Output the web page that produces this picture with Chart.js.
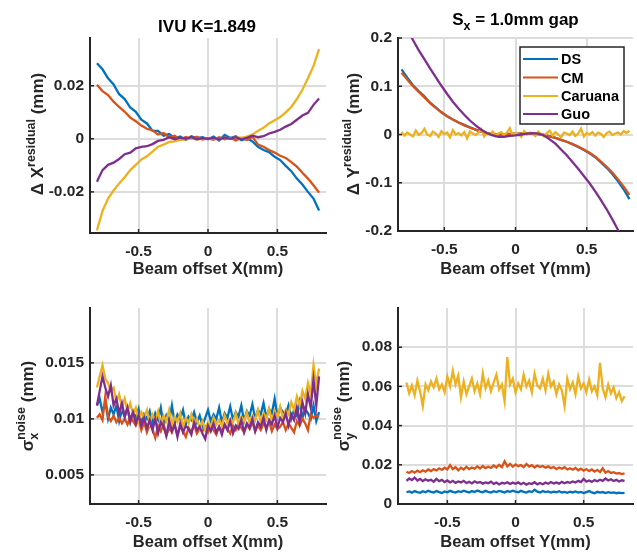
<!DOCTYPE html>
<html><head><meta charset="utf-8">
<script src="https://cdn.jsdelivr.net/npm/chart.js@4/dist/chart.umd.min.js"></script>
<style>
html,body{margin:0;padding:0;background:#fff;}
body{width:637px;height:553px;position:relative;overflow:hidden;}
canvas{position:absolute;}
</style></head>
<body>
<canvas id="cTL" width="330" height="280" style="left:0;top:0"></canvas>
<canvas id="cTR" width="307" height="280" style="left:330px;top:0"></canvas>
<canvas id="cBL" width="330" height="273" style="left:0;top:280px"></canvas>
<canvas id="cBR" width="307" height="273" style="left:330px;top:280px"></canvas>
<script>
// ---------- DATA ----------
const seriesNames = ['DS', 'CM', 'Caruana', 'Guo'];
const xTicks = [-0.5, 0, 0.5];
const yTicksTL = [-0.02, 0, 0.02];
const yTicksTR = [-0.2, -0.1, 0, 0.1, 0.2];
const yTicksBL = [0.005, 0.01, 0.015];
const yTicksBR = [0, 0.02, 0.04, 0.06, 0.08];

const xPos41 = [-0.80,-0.76,-0.72,-0.68,-0.64,-0.60,-0.56,-0.52,-0.48,-0.44,
  -0.40,-0.36,-0.32,-0.28,-0.24,-0.20,-0.16,-0.12,-0.08,-0.04,
  0.00,0.04,0.08,0.12,0.16,0.20,0.24,0.28,0.32,0.36,
  0.40,0.44,0.48,0.52,0.56,0.60,0.64,0.68,0.72,0.76,
  0.80];
const xPos81 = [-0.80,-0.78,-0.76,-0.74,-0.72,-0.70,-0.68,-0.66,-0.64,-0.62,
  -0.60,-0.58,-0.56,-0.54,-0.52,-0.50,-0.48,-0.46,-0.44,-0.42,
  -0.40,-0.38,-0.36,-0.34,-0.32,-0.30,-0.28,-0.26,-0.24,-0.22,
  -0.20,-0.18,-0.16,-0.14,-0.12,-0.10,-0.08,-0.06,-0.04,-0.02,
  0.00,0.02,0.04,0.06,0.08,0.10,0.12,0.14,0.16,0.18,
  0.20,0.22,0.24,0.26,0.28,0.30,0.32,0.34,0.36,0.38,
  0.40,0.42,0.44,0.46,0.48,0.50,0.52,0.54,0.56,0.58,
  0.60,0.62,0.64,0.66,0.68,0.70,0.72,0.74,0.76,0.78,
  0.80];

// Top-left: Delta X residual (mm)
const tlDS = [0.0285,0.0262,0.0228,0.0205,0.0168,0.0150,0.0118,0.0102,0.0072,0.0058,
  0.0031,0.0030,0.0012,0.0018,0.0002,0.0009,-0.0004,0.0010,0.0003,0.0006,
  -0.0002,0.0008,-0.0006,0.0015,0.0003,0.0010,-0.0005,0.0002,-0.0010,-0.0030,
  -0.0042,-0.0050,-0.0068,-0.0080,-0.0102,-0.0122,-0.0150,-0.0172,-0.0200,-0.0225,
  -0.0270];
const tlCM = [0.0204,0.0180,0.0165,0.0140,0.0120,0.0102,0.0080,0.0066,0.0050,0.0038,
  0.0032,0.0016,0.0022,0.0006,0.0012,-0.0002,0.0007,0.0000,0.0008,-0.0003,
  0.0002,-0.0004,0.0006,-0.0002,0.0004,-0.0006,0.0003,-0.0004,0.0008,-0.0022,
  -0.0030,-0.0042,-0.0052,-0.0064,-0.0072,-0.0088,-0.0105,-0.0128,-0.0150,-0.0175,
  -0.0203];
const tlCaruana = [-0.0345,-0.0272,-0.0225,-0.0195,-0.0168,-0.0145,-0.0118,-0.0098,-0.0078,-0.0066,
  -0.0048,-0.0030,-0.0022,-0.0012,-0.0010,-0.0004,-0.0002,0.0001,-0.0003,0.0002,
  0.0000,0.0003,-0.0002,0.0004,0.0001,0.0005,0.0004,0.0008,0.0016,0.0030,
  0.0042,0.0058,0.0070,0.0082,0.0100,0.0120,0.0150,0.0185,0.0228,0.0275,
  0.0338];
const tlGuo = [-0.0162,-0.0118,-0.0098,-0.0090,-0.0076,-0.0058,-0.0052,-0.0036,-0.0030,-0.0028,
  -0.0020,-0.0008,-0.0004,0.0006,-0.0002,0.0004,0.0000,0.0006,-0.0002,0.0003,
  0.0000,0.0004,-0.0003,0.0005,0.0000,0.0006,-0.0002,0.0004,0.0012,0.0006,
  0.0010,0.0020,0.0026,0.0034,0.0046,0.0056,0.0072,0.0088,0.0098,0.0128,
  0.0152];

// Top-right: Delta Y residual (mm)
const trDS = [0.135,0.118,0.102,0.090,0.079,0.066,0.056,0.046,0.038,0.031,
  0.025,0.020,0.015,0.010,0.006,0.003,0.001,0.000,0.000,0.001,
  0.002,0.002,0.003,0.002,0.001,-0.001,-0.004,-0.007,-0.011,-0.015,
  -0.020,-0.026,-0.032,-0.039,-0.047,-0.058,-0.069,-0.082,-0.097,-0.114,
  -0.134];
const trCM = [0.128,0.114,0.100,0.088,0.077,0.065,0.055,0.046,0.038,0.031,
  0.025,0.019,0.014,0.010,0.006,0.003,0.001,0.000,0.000,0.001,
  0.002,0.002,0.003,0.002,0.001,-0.001,-0.004,-0.007,-0.011,-0.015,
  -0.020,-0.025,-0.031,-0.038,-0.046,-0.056,-0.067,-0.079,-0.093,-0.108,
  -0.125];
const trCaruana = [0.005,-0.002,0.004,0.000,-0.004,0.008,-0.001,0.003,0.012,0.000,
  -0.003,0.006,0.002,-0.005,0.007,0.001,0.004,-0.006,0.009,0.000,
  0.003,-0.002,0.005,-0.008,0.006,0.002,-0.001,0.004,0.011,-0.004,
  0.003,0.000,0.006,-0.003,0.002,0.005,-0.001,0.004,0.013,-0.002,
  0.003,0.001,-0.005,0.007,0.000,0.004,0.002,-0.003,0.006,0.001,
  -0.004,0.003,0.008,-0.002,0.005,0.000,-0.006,0.004,0.002,-0.001,
  0.006,-0.003,0.002,0.012,-0.004,0.003,0.000,0.005,-0.002,0.004,
  0.001,-0.005,0.003,0.006,-0.001,0.002,0.004,0.000,0.007,0.003,
  0.008];
const trGuo = [0.240,0.218,0.196,0.175,0.156,0.137,0.119,0.101,0.084,0.068,
  0.054,0.041,0.029,0.019,0.010,0.003,-0.002,-0.005,-0.005,-0.003,
  -0.002,0.000,0.002,0.003,0.002,-0.002,-0.010,-0.019,-0.031,-0.043,
  -0.057,-0.071,-0.086,-0.101,-0.118,-0.136,-0.155,-0.176,-0.198,-0.222,
  -0.247];

// Bottom-left: sigma_x noise (mm)
const blDS = [0.0112,0.0118,0.0106,0.0115,0.0100,0.0110,0.0104,0.0112,0.0098,0.0108,
  0.0102,0.0110,0.0097,0.0106,0.0101,0.0109,0.0095,0.0104,0.0100,0.0107,
  0.0096,0.0105,0.0099,0.0110,0.0094,0.0103,0.0098,0.0112,0.0096,0.0104,
  0.0100,0.0108,0.0095,0.0102,0.0099,0.0106,0.0097,0.0103,0.0094,0.0101,
  0.0108,0.0098,0.0104,0.0100,0.0110,0.0097,0.0105,0.0101,0.0111,0.0099,
  0.0106,0.0102,0.0112,0.0098,0.0107,0.0103,0.0113,0.0100,0.0108,0.0104,
  0.0114,0.0101,0.0109,0.0105,0.0118,0.0102,0.0110,0.0106,0.0104,0.0112,
  0.0100,0.0108,0.0103,0.0115,0.0101,0.0109,0.0105,0.0100,0.0112,0.0098,
  0.0106];
const blCM = [0.0101,0.0104,0.0099,0.0120,0.0102,0.0098,0.0103,0.0097,0.0101,0.0096,
  0.0100,0.0095,0.0102,0.0098,0.0094,0.0100,0.0090,0.0097,0.0088,0.0095,
  0.0091,0.0083,0.0094,0.0089,0.0096,0.0085,0.0092,0.0088,0.0095,0.0086,
  0.0093,0.0089,0.0084,0.0092,0.0088,0.0095,0.0087,0.0091,0.0089,0.0093,
  0.0088,0.0094,0.0090,0.0086,0.0093,0.0089,0.0095,0.0091,0.0087,0.0094,
  0.0090,0.0096,0.0092,0.0088,0.0095,0.0091,0.0097,0.0089,0.0094,0.0090,
  0.0096,0.0092,0.0098,0.0089,0.0095,0.0091,0.0093,0.0097,0.0090,0.0096,
  0.0092,0.0088,0.0098,0.0094,0.0100,0.0096,0.0090,0.0104,0.0101,0.0103,
  0.0102];
const blCaruana = [0.0128,0.0138,0.0148,0.0136,0.0132,0.0125,0.0128,0.0115,0.0122,0.0110,
  0.0118,0.0106,0.0114,0.0104,0.0110,0.0098,0.0106,0.0101,0.0108,0.0096,
  0.0104,0.0099,0.0107,0.0095,0.0103,0.0098,0.0108,0.0094,0.0102,0.0097,
  0.0105,0.0093,0.0101,0.0096,0.0104,0.0095,0.0100,0.0092,0.0098,0.0090,
  0.0097,0.0093,0.0101,0.0095,0.0099,0.0094,0.0103,0.0096,0.0100,0.0097,
  0.0105,0.0095,0.0102,0.0098,0.0106,0.0096,0.0103,0.0099,0.0108,0.0097,
  0.0105,0.0100,0.0109,0.0098,0.0107,0.0102,0.0111,0.0100,0.0108,0.0104,
  0.0115,0.0108,0.0120,0.0112,0.0125,0.0118,0.0132,0.0122,0.0148,0.0130,
  0.0145];
const blGuo = [0.0112,0.0125,0.0138,0.0128,0.0120,0.0130,0.0112,0.0118,0.0105,0.0114,
  0.0102,0.0110,0.0098,0.0106,0.0096,0.0103,0.0094,0.0101,0.0092,0.0099,
  0.0090,0.0100,0.0087,0.0097,0.0093,0.0085,0.0098,0.0089,0.0095,0.0084,
  0.0096,0.0088,0.0094,0.0091,0.0086,0.0097,0.0090,0.0093,0.0087,0.0082,
  0.0094,0.0089,0.0096,0.0088,0.0093,0.0086,0.0095,0.0090,0.0098,0.0087,
  0.0094,0.0091,0.0099,0.0088,0.0096,0.0092,0.0100,0.0089,0.0097,0.0093,
  0.0101,0.0090,0.0099,0.0095,0.0103,0.0092,0.0101,0.0097,0.0105,0.0094,
  0.0104,0.0099,0.0110,0.0097,0.0115,0.0105,0.0122,0.0110,0.0135,0.0112,
  0.0138];

// Bottom-right: sigma_y noise (mm)
const brDS = [0.0060,0.0064,0.0058,0.0066,0.0061,0.0057,0.0065,0.0060,0.0068,0.0062,
  0.0059,0.0066,0.0061,0.0056,0.0064,0.0060,0.0067,0.0062,0.0058,0.0065,
  0.0061,0.0068,0.0063,0.0059,0.0066,0.0061,0.0069,0.0063,0.0060,0.0067,
  0.0062,0.0058,0.0065,0.0061,0.0067,0.0063,0.0059,0.0066,0.0062,0.0068,
  0.0063,0.0060,0.0067,0.0062,0.0058,0.0065,0.0061,0.0073,0.0063,0.0059,
  0.0066,0.0061,0.0064,0.0058,0.0063,0.0060,0.0065,0.0059,0.0062,0.0057,
  0.0063,0.0059,0.0064,0.0058,0.0062,0.0056,0.0061,0.0066,0.0059,0.0055,
  0.0062,0.0058,0.0061,0.0056,0.0060,0.0057,0.0059,0.0055,0.0058,0.0056,
  0.0057];
const brCM = [0.0165,0.0158,0.0168,0.0160,0.0170,0.0162,0.0172,0.0165,0.0176,0.0168,
  0.0178,0.0171,0.0182,0.0174,0.0185,0.0176,0.0198,0.0178,0.0188,0.0172,
  0.0185,0.0176,0.0190,0.0178,0.0186,0.0180,0.0192,0.0181,0.0194,0.0183,
  0.0190,0.0184,0.0196,0.0186,0.0200,0.0188,0.0218,0.0192,0.0205,0.0190,
  0.0202,0.0193,0.0199,0.0188,0.0204,0.0191,0.0198,0.0186,0.0196,0.0189,
  0.0194,0.0185,0.0192,0.0183,0.0189,0.0178,0.0186,0.0180,0.0188,0.0176,
  0.0182,0.0175,0.0184,0.0172,0.0180,0.0170,0.0178,0.0168,0.0176,0.0165,
  0.0174,0.0163,0.0182,0.0160,0.0168,0.0158,0.0162,0.0155,0.0158,0.0153,
  0.0156];
const brCaruana = [0.0620,0.0565,0.0605,0.0555,0.0630,0.0575,0.0500,0.0610,0.0580,0.0625,
  0.0595,0.0640,0.0585,0.0610,0.0570,0.0650,0.0600,0.0680,0.0610,0.0655,
  0.0545,0.0625,0.0560,0.0600,0.0640,0.0575,0.0615,0.0560,0.0665,0.0590,
  0.0630,0.0575,0.0620,0.0660,0.0585,0.0610,0.0525,0.0750,0.0610,0.0640,
  0.0570,0.0615,0.0585,0.0660,0.0600,0.0630,0.0570,0.0665,0.0605,0.0590,
  0.0640,0.0580,0.0665,0.0600,0.0625,0.0560,0.0610,0.0580,0.0500,0.0640,
  0.0585,0.0620,0.0560,0.0650,0.0590,0.0615,0.0570,0.0635,0.0575,0.0600,
  0.0555,0.0720,0.0590,0.0545,0.0610,0.0565,0.0595,0.0540,0.0570,0.0525,
  0.0550];
const brGuo = [0.0118,0.0130,0.0122,0.0135,0.0120,0.0128,0.0117,0.0126,0.0119,0.0124,
  0.0114,0.0128,0.0117,0.0123,0.0112,0.0120,0.0110,0.0118,0.0108,0.0115,
  0.0110,0.0118,0.0107,0.0113,0.0105,0.0116,0.0108,0.0112,0.0104,0.0110,
  0.0106,0.0114,0.0103,0.0109,0.0100,0.0108,0.0104,0.0111,0.0102,0.0109,
  0.0103,0.0110,0.0101,0.0108,0.0099,0.0106,0.0102,0.0111,0.0100,0.0107,
  0.0101,0.0109,0.0103,0.0112,0.0105,0.0110,0.0104,0.0113,0.0106,0.0112,
  0.0108,0.0115,0.0110,0.0118,0.0112,0.0128,0.0114,0.0120,0.0113,0.0122,
  0.0116,0.0124,0.0118,0.0130,0.0120,0.0126,0.0117,0.0123,0.0115,0.0121,
  0.0118];

// ---------- STYLE / RENDER ----------
const FAM = '"Liberation Sans", Arial, Helvetica, sans-serif';
const COLORS = ['#0072BD', '#D95319', '#EDB120', '#7E2F8E'];
const AX = '#262626';

function drawRich(ctx, groups, cx, cy, rot, color) {
  ctx.save();
  ctx.fillStyle = color;
  ctx.textAlign = 'left';
  ctx.textBaseline = 'alphabetic';
  const widths = groups.map(g => Math.max(...g.map(p => {
    ctx.font = 'bold ' + p.s + 'px ' + FAM; return ctx.measureText(p.t).width;
  })));
  const total = widths.reduce((a, b) => a + b, 0);
  ctx.translate(cx, cy);
  ctx.rotate(rot);
  let x = -total / 2;
  groups.forEach((g, gi) => {
    g.forEach(p => {
      ctx.font = 'bold ' + p.s + 'px ' + FAM;
      ctx.fillText(p.t, x, p.dy || 0);
    });
    x += widths[gi];
  });
  ctx.restore();
}

const decorPlugin = {
  id: 'decor',
  afterDraw(chart, args, opts) {
    const ctx = chart.ctx, a = chart.chartArea;
    const xs = chart.scales.x, ys = chart.scales.y;
    ctx.save();
    ctx.strokeStyle = AX; ctx.lineWidth = 1.5;
    xs.ticks.forEach(t => {
      const p = xs.getPixelForValue(t.value);
      ctx.beginPath(); ctx.moveTo(p, a.bottom); ctx.lineTo(p, a.bottom - 4); ctx.stroke();
    });
    ys.ticks.forEach(t => {
      const p = ys.getPixelForValue(t.value);
      ctx.beginPath(); ctx.moveTo(a.left, p); ctx.lineTo(a.left + 4, p); ctx.stroke();
    });
    ctx.restore();
    if (opts.title) drawRich(ctx, opts.title.parts, opts.title.x, opts.title.y, 0, '#000');
    if (opts.ytitle) drawRich(ctx, opts.ytitle.parts, opts.ytitle.x, opts.ytitle.y, -Math.PI / 2, AX);
    if (opts.legend) {
      const L = opts.legend;
      ctx.save();
      ctx.fillStyle = '#fff';
      ctx.fillRect(L.x0, L.y0, L.x1 - L.x0, L.y1 - L.y0);
      ctx.strokeStyle = AX; ctx.lineWidth = 1.5;
      ctx.strokeRect(L.x0, L.y0, L.x1 - L.x0, L.y1 - L.y0);
      ctx.font = 'bold ' + L.size + 'px ' + FAM;
      ctx.textBaseline = 'middle'; ctx.textAlign = 'left';
      chart.data.datasets.forEach((ds, i) => {
        const y = L.rows[i];
        ctx.strokeStyle = ds.borderColor; ctx.lineWidth = 2.2;
        ctx.beginPath(); ctx.moveTo(L.lx0, y); ctx.lineTo(L.lx1, y); ctx.stroke();
        ctx.fillStyle = '#000';
        ctx.fillText(ds.label, L.tx, y + 1);
      });
      ctx.restore();
    }
  }
};

const fmt = v => String(Number(Number(v).toFixed(4)));

function build(id, cfg) {
  const canvas = document.getElementById(id);
  const W = canvas.width, H = canvas.height, A = cfg.area;
  const tickFont = { family: FAM, size: 15.5, weight: 'bold' };
  return new Chart(canvas, {
    type: 'line',
    data: {
      datasets: cfg.series.map((ys, i) => ({
        label: seriesNames[i],
        data: ys.map((v, k) => ({ x: cfg.xs[i][k], y: v })),
        borderColor: COLORS[i], backgroundColor: COLORS[i],
        borderWidth: 2.3, pointRadius: 0, tension: 0, fill: false,
        clip: 0, order: 3 - i
      }))
    },
    options: {
      responsive: false, animation: false, events: [],
      layout: { padding: { left: 0, top: A.top, right: W - A.right, bottom: 0 } },
      plugins: { legend: { display: false }, tooltip: { enabled: false }, decor: cfg.decor },
      scales: {
        x: {
          type: 'linear', min: cfg.xMin, max: cfg.xMax,
          afterBuildTicks: s => { s.ticks = xTicks.map(v => ({ value: v })); },
          afterFit: s => { s.height = H - A.bottom; },
          ticks: { padding: 9, font: tickFont, color: AX, callback: fmt, maxRotation: 0, autoSkip: false },
          grid: { color: '#dcdcdc', lineWidth: 2, drawTicks: false },
          border: { color: AX, width: 2 },
          title: { display: true, text: cfg.xTitle, color: AX,
                   font: { family: FAM, size: 16.5, weight: 'bold' },
                   padding: { top: 0, bottom: cfg.xTitlePad } }
        },
        y: {
          type: 'linear', min: cfg.yMin, max: cfg.yMax,
          afterBuildTicks: s => { s.ticks = cfg.yTicks.map(v => ({ value: v })); },
          afterFit: s => { s.width = A.left; },
          ticks: { padding: 6, font: tickFont, color: AX, callback: fmt, autoSkip: false },
          grid: { color: '#dcdcdc', lineWidth: 2, drawTicks: false },
          border: { color: AX, width: 2 }
        }
      }
    },
    plugins: [decorPlugin]
  });
}

build('cTL', {
  area: { left: 90, right: 326, top: 38, bottom: 233 },
  xs: [xPos41, xPos41, xPos41, xPos41],
  series: [tlDS, tlCM, tlCaruana, tlGuo],
  xMin: -0.85, xMax: 0.85, yMin: -0.0355, yMax: 0.038, yTicks: yTicksTL,
  xTitle: 'Beam offset X(mm)', xTitlePad: 0.5,
  decor: {
    title: { parts: [[{ t: 'IVU K=1.849', s: 17 }]], x: 207, y: 31.5 },
    ytitle: { parts: [[{ t: '\u0394 X', s: 17 }], [{ t: 'residual', s: 12.5, dy: -8 }], [{ t: ' (mm)', s: 17 }]], x: 43, y: 134 }
  }
});

build('cTR', {
  area: { left: 68, right: 303, top: 38, bottom: 231 },
  xs: [xPos41, xPos41, xPos81, xPos41],
  series: [trDS, trCM, trCaruana, trGuo],
  xMin: -0.825, xMax: 0.825, yMin: -0.2, yMax: 0.2, yTicks: yTicksTR,
  xTitle: 'Beam offset Y(mm)', xTitlePad: 0.5,
  decor: {
    title: { parts: [[{ t: 'S', s: 17 }], [{ t: 'x', s: 12.5, dy: 5 }], [{ t: ' = 1.0mm gap', s: 17 }]], x: 185.5, y: 25 },
    ytitle: { parts: [[{ t: '\u0394 Y', s: 17 }], [{ t: 'residual', s: 12.5, dy: -8 }], [{ t: ' (mm)', s: 17 }]], x: 29, y: 134 },
    legend: { x0: 190, y0: 47, x1: 294, y1: 124, lx0: 193, lx1: 228, tx: 231, size: 14.5, rows: [59, 77.5, 96, 114] }
  }
});

build('cBL', {
  area: { left: 90, right: 326, top: 28, bottom: 224 },
  xs: [xPos81, xPos81, xPos81, xPos81],
  series: [blDS, blCM, blCaruana, blGuo],
  xMin: -0.85, xMax: 0.85, yMin: 0.0024, yMax: 0.0199, yTicks: yTicksBL,
  xTitle: 'Beam offset X(mm)', xTitlePad: 0.5,
  decor: {
    ytitle: { parts: [[{ t: '\u03C3', s: 17 }], [{ t: 'noise', s: 12.5, dy: -8 }, { t: 'x', s: 12.5, dy: 5 }], [{ t: ' (mm)', s: 17 }]], x: 33, y: 126 }
  }
});

build('cBR', {
  area: { left: 68, right: 303, top: 28, bottom: 224 },
  xs: [xPos81, xPos81, xPos81, xPos81],
  series: [brDS, brCM, brCaruana, brGuo],
  xMin: -0.862, xMax: 0.862, yMin: 0, yMax: 0.1, yTicks: yTicksBR,
  xTitle: 'Beam offset Y(mm)', xTitlePad: 0.5,
  decor: {
    ytitle: { parts: [[{ t: '\u03C3', s: 17 }], [{ t: 'noise', s: 12.5, dy: -8 }, { t: 'y', s: 12.5, dy: 5 }], [{ t: ' (mm)', s: 17 }]], x: 19, y: 126 }
  }
});
</script>
</body></html>
